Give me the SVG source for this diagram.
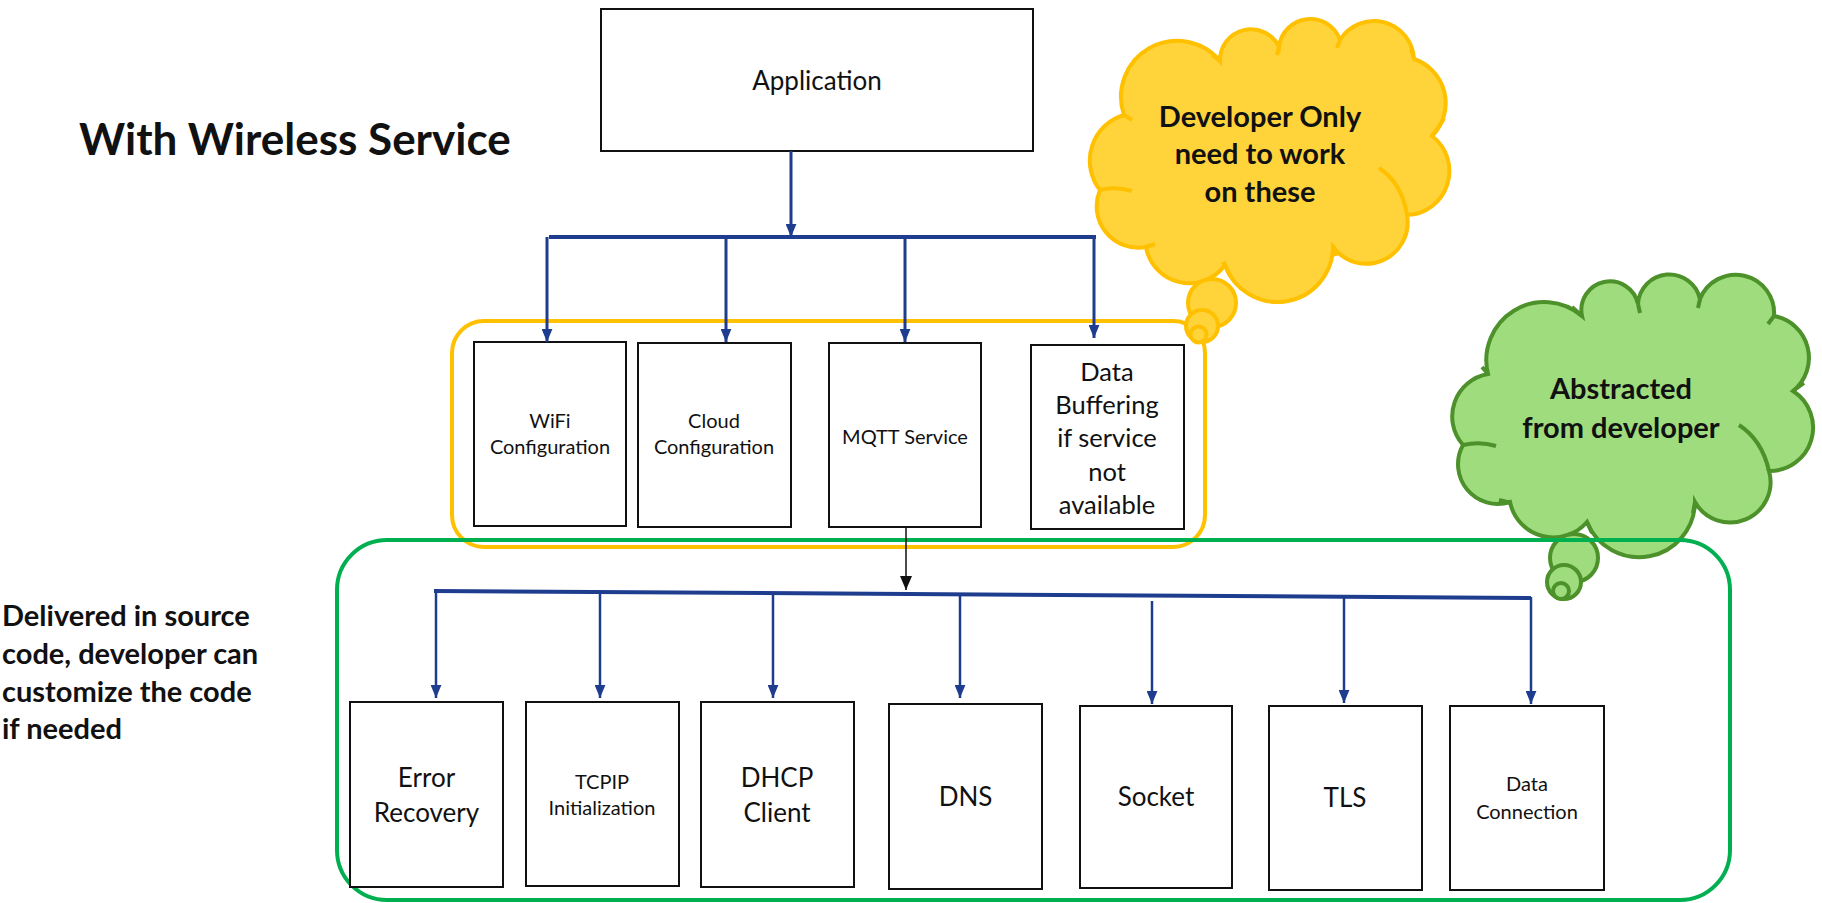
<svg xmlns="http://www.w3.org/2000/svg" width="1822" height="903" viewBox="0 0 1822 903">
<defs>
<style>
.box{fill:#fff;stroke:#111;stroke-width:2}
.t{font-family:Lato,"Liberation Sans",sans-serif;fill:#111;text-anchor:middle}
.b{font-weight:bold}
.blue{stroke:#1F3D8F;fill:none}
.ycl{fill:#FFD43B;stroke:#FFC000;stroke-width:4}
.gcl{fill:#9FDC7E;stroke:#4C9129;stroke-width:4}
.ys{fill:none;stroke:#FFC000;stroke-width:4}
.gs{fill:none;stroke:#4C9129;stroke-width:4}
</style>
<marker id="ah" viewBox="0 0 12 10" refX="12" refY="5" markerWidth="13" markerHeight="11" markerUnits="userSpaceOnUse" orient="auto">
<path d="M0,0 L12,5 L0,10 Z" fill="#1F3D8F"/>
</marker>
<marker id="ak" viewBox="0 0 14 12" refX="14" refY="6" markerWidth="14" markerHeight="12" markerUnits="userSpaceOnUse" orient="auto">
<path d="M0,0 L14,6 L0,12 Z" fill="#111"/>
</marker>
</defs>
<rect width="1822" height="903" fill="#fff"/>

<text class="t b" x="79" y="155" font-size="44" style="text-anchor:start">With Wireless Service</text>

<g id="yellow-group">
<rect x="452" y="321" width="753" height="226" rx="32" fill="none" stroke="#FFC000" stroke-width="4"/>
</g>

<g id="green-cloud">
<path class="gcl" d="M1488,374 A58,58 0 0 1 1582,316 A28.6,28.6 0 0 1 1638,304 A31.4,31.4 0 0 1 1700,299 A38.4,38.4 0 0 1 1774,316 A42.5,42.5 0 0 1 1793,391 A43.4,43.4 0 0 1 1769,471 A40.4,40.4 0 0 1 1695,502 A56,56 0 0 1 1587,522 A44.3,44.3 0 0 1 1510,502 A39.7,39.7 0 0 1 1463,445 A43.1,43.1 0 0 1 1488,374 Z"/>
<path class="gs" d="M1463,445 Q1480,441 1496,446 M1488,374 L1482,367 M1572,307 L1582,316 M1638,304 L1640,313 M1700,299 L1698,308 M1774,316 L1768,324 M1793,391 L1804,383 M1739,425 Q1762,440 1769,471 M1695,502 L1693,513 M1587,522 L1592,533 M1499,500 L1511,503"/>
<circle class="gcl" cx="1574" cy="558" r="24"/>
<circle class="gcl" cx="1564" cy="582" r="17"/>
<circle class="gcl" cx="1561" cy="591" r="8"/>
<text class="t b" x="1621" y="399" font-size="29">Abstracted</text>
<text class="t b" x="1621" y="438" font-size="29">from developer</text>
</g>

<g id="green-group">
<rect x="337" y="540" width="1393" height="360" rx="50" fill="none" stroke="#00B050" stroke-width="4"/>
</g>

<g id="yellow-cloud">
<path class="ycl" d="M1124,115 A56,56 0 0 1 1220,61 A31,31 0 0 1 1279,47 A31.5,31.5 0 0 1 1340,40 A40,40 0 0 1 1414,59 A46.5,46.5 0 0 1 1432,136 A44,44 0 0 1 1407,215 A41.4,41.4 0 0 1 1333,247 A55.6,55.6 0 0 1 1225,265 A44,44 0 0 1 1146,247 A41.5,41.5 0 0 1 1100,190 A47.5,47.5 0 0 1 1124,115 Z"/>
<path class="ys" d="M1100,190 Q1116,186 1132,191 M1124,115 L1132,120 M1212,55 L1220,61 M1279,47 L1277,55 M1340,40 L1337,48 M1414,59 L1411,49 M1432,136 Q1440,126 1444,118 M1379,168 Q1402,183 1407,215 M1333,245 L1336,256 M1223,262 L1231,277 M1146,247 L1155,244"/>
<circle class="ycl" cx="1212" cy="303" r="24"/>
<circle class="ycl" cx="1202" cy="326" r="16"/>
<circle class="ycl" cx="1198.5" cy="334.5" r="8"/>
<text class="t b" x="1260" y="127" font-size="29">Developer Only</text>
<text class="t b" x="1260" y="164" font-size="29">need to work</text>
<text class="t b" x="1260" y="202" font-size="29">on these</text>
</g>

<g id="note">
<text class="t b" font-size="29" style="text-anchor:start"><tspan x="2" y="626">Delivered in source</tspan><tspan x="2" y="664">code, developer can</tspan><tspan x="2" y="702">customize the code</tspan><tspan x="2" y="739">if needed</tspan></text>
</g>

<g id="application">
<rect class="box" x="601" y="9" width="432" height="142"/>
<text class="t" x="817" y="90" font-size="26">Application</text>
</g>

<g id="wifi">
<rect class="box" x="474" y="342" width="152" height="184"/>
<text class="t" x="550" y="428" font-size="20">WiFi</text>
<text class="t" x="550" y="454" font-size="20">Configuration</text>
</g>
<g id="cloud-config">
<rect class="box" x="638" y="343" width="153" height="184"/>
<text class="t" x="714" y="428" font-size="20">Cloud</text>
<text class="t" x="714" y="454" font-size="20">Configuration</text>
</g>
<g id="mqtt">
<rect class="box" x="829" y="343" width="152" height="184"/>
<text class="t" x="905" y="444" font-size="20">MQTT Service</text>
</g>
<g id="data-buffering">
<rect class="box" x="1031" y="345" width="153" height="184"/>
<text class="t" x="1107" y="381" font-size="25.5">Data</text>
<text class="t" x="1107" y="414" font-size="25.5">Buffering</text>
<text class="t" x="1107" y="447" font-size="25.5">if service</text>
<text class="t" x="1107" y="481" font-size="25.5">not</text>
<text class="t" x="1107" y="514" font-size="25.5">available</text>
</g>

<g id="error-recovery">
<rect class="box" x="350" y="702" width="153" height="185"/>
<text class="t" x="426.5" y="787" font-size="26">Error</text>
<text class="t" x="426.5" y="822" font-size="26">Recovery</text>
</g>
<g id="tcpip">
<rect class="box" x="526" y="702" width="153" height="184"/>
<text class="t" x="602" y="789" font-size="20">TCPIP</text>
<text class="t" x="602" y="815" font-size="20">Initialization</text>
</g>
<g id="dhcp">
<rect class="box" x="701" y="702" width="153" height="185"/>
<text class="t" x="777" y="787" font-size="26">DHCP</text>
<text class="t" x="777" y="822" font-size="26">Client</text>
</g>
<g id="dns">
<rect class="box" x="889" y="704" width="153" height="185"/>
<text class="t" x="965.5" y="806" font-size="26">DNS</text>
</g>
<g id="socket">
<rect class="box" x="1080" y="706" width="152" height="182"/>
<text class="t" x="1156" y="806" font-size="26">Socket</text>
</g>
<g id="tls">
<rect class="box" x="1269" y="706" width="153" height="184"/>
<text class="t" x="1345" y="807" font-size="26">TLS</text>
</g>
<g id="data-connection">
<rect class="box" x="1450" y="706" width="154" height="184"/>
<text class="t" x="1527" y="791" font-size="20">Data</text>
<text class="t" x="1527" y="819" font-size="20">Connection</text>
</g>

<g id="connectors">
<path class="blue" stroke-width="3" d="M791,151 V237" marker-end="url(#ah)"/>
<path class="blue" stroke-width="4" d="M549,237 H1096"/>
<path class="blue" stroke-width="3" d="M547,237 V342" marker-end="url(#ah)"/>
<path class="blue" stroke-width="3" d="M726,237 V342" marker-end="url(#ah)"/>
<path class="blue" stroke-width="3" d="M905,237 V342" marker-end="url(#ah)"/>
<path class="blue" stroke-width="3" d="M1094,235 V338" marker-end="url(#ah)"/>
<path d="M906,527 V590" stroke="#111" stroke-width="1.5" fill="none" marker-end="url(#ak)"/>
<path class="blue" stroke-width="4" d="M434,591 L1531,598"/>
<path class="blue" stroke-width="2.5" d="M436,591 V698" marker-end="url(#ah)"/>
<path class="blue" stroke-width="2.5" d="M600,592 V698" marker-end="url(#ah)"/>
<path class="blue" stroke-width="2.5" d="M773,593 V698" marker-end="url(#ah)"/>
<path class="blue" stroke-width="2.5" d="M960,594 V698" marker-end="url(#ah)"/>
<path class="blue" stroke-width="2.5" d="M1152,601 V704" marker-end="url(#ah)"/>
<path class="blue" stroke-width="2.5" d="M1344,597 V703" marker-end="url(#ah)"/>
<path class="blue" stroke-width="2.5" d="M1531,597 V704" marker-end="url(#ah)"/>
</g>
</svg>
